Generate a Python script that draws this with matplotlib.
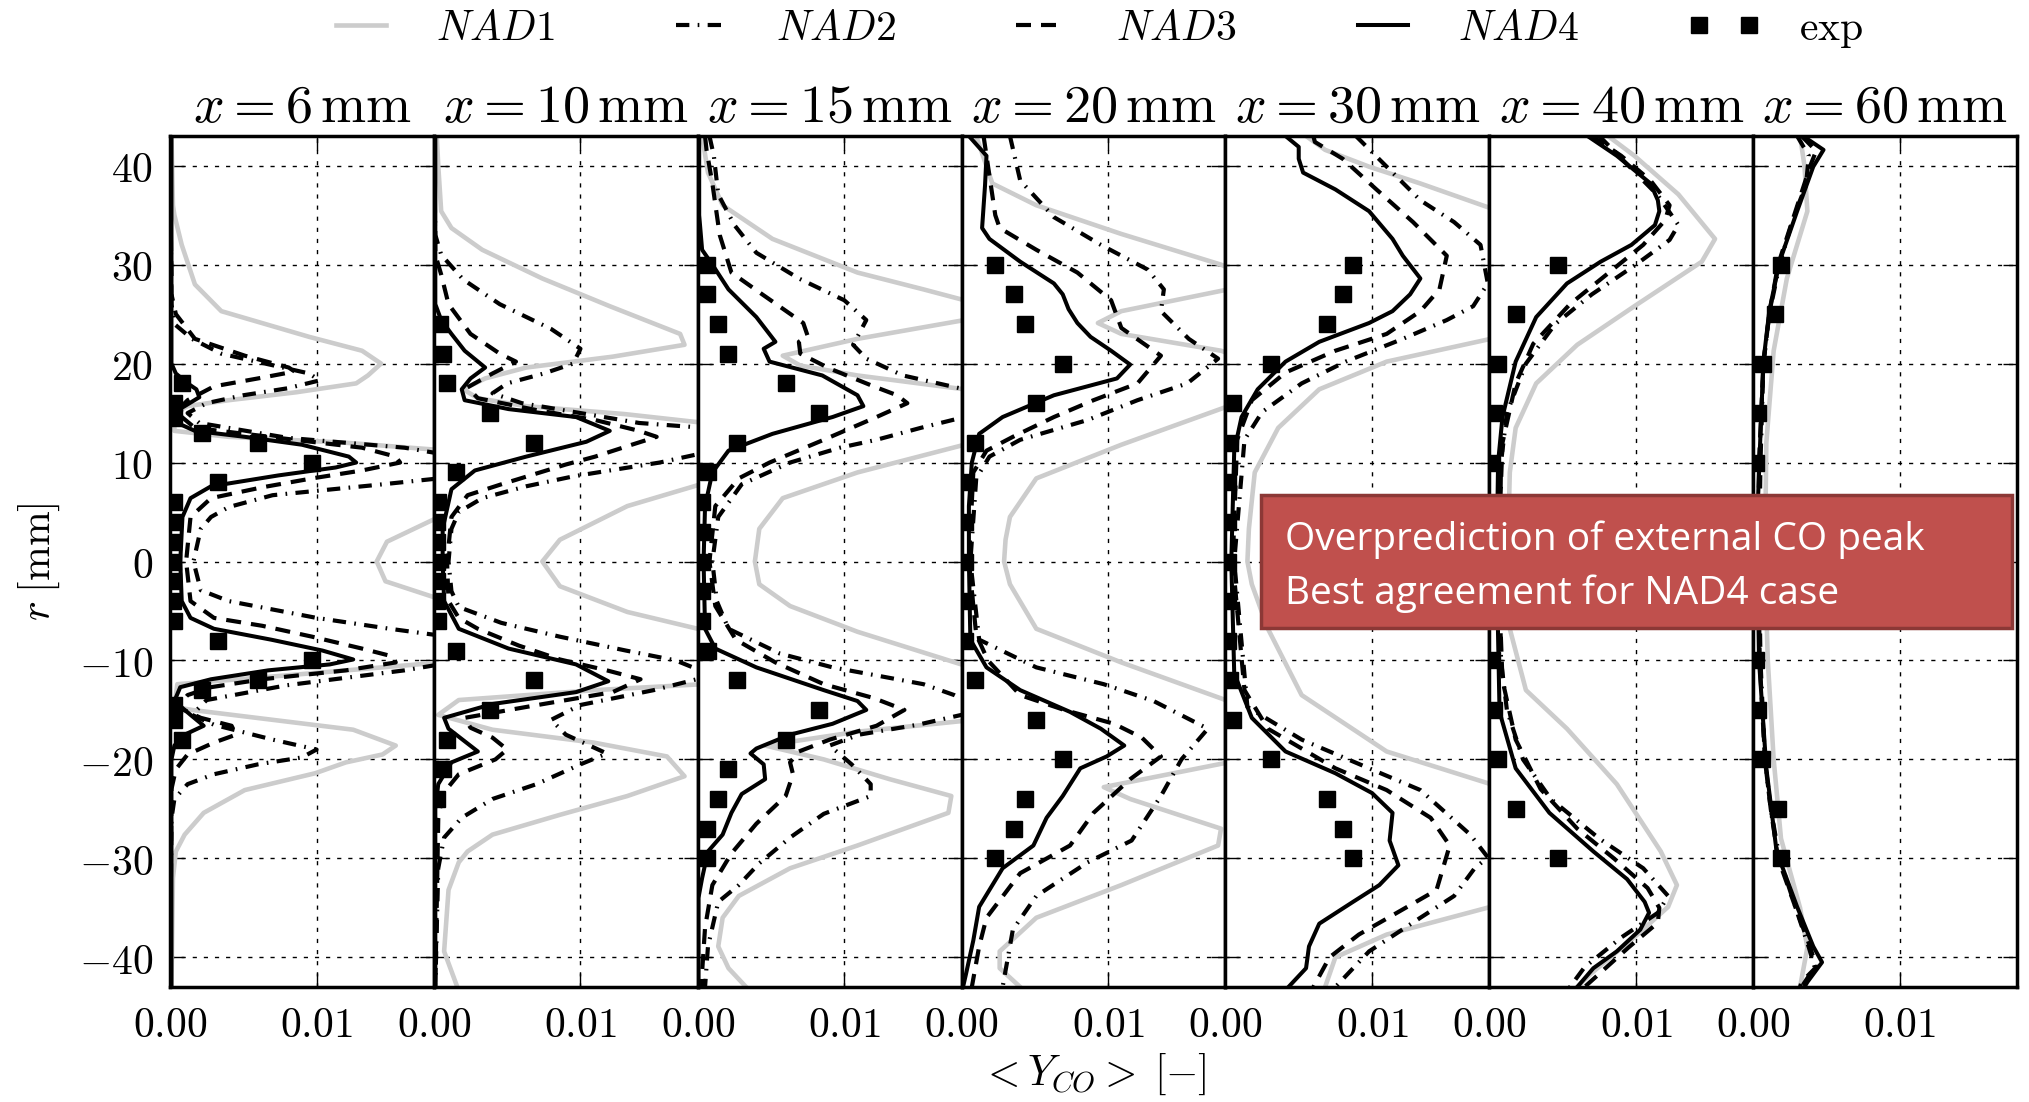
"""
Perfiles radiales de <Y_CO> en siete estaciones axiales:
cuatro casos de simulacion (NAD1..NAD4) frente al experimento.
"""
import matplotlib
matplotlib.use("Agg")
import matplotlib.pyplot as plt
from matplotlib.patches import Rectangle
from matplotlib.ticker import FuncFormatter
from matplotlib.lines import Line2D

# valores de Y_CO en unidades de 1e-3, pares (r [mm], Y_CO)
SCALE = 1e-3
STATIONS = [6, 10, 15, 20, 30, 40, 60]

# ---------------- x = 6 mm ----------------
NAD1_6 = [(43, 0.1), (36, 0.2), (35, 0.3), (32, 0.8), (28, 1.7), (25.3, 3.5), (22.7, 9.5), (21.3, 13.1),
          (20, 14.4), (18.8, 13.5), (18, 12.7), (17.1, 8.6), (16.3, 4.0), (15.7, 1.2), (15, 0.3), (13.2, 0.3),
          (12.6, 4), (12, 12), (11.2, 19), (8, 25), (4.4, 18.2), (2, 14.8), (0, 14.1), (-2, 14.7),
          (-3.7, 18.2), (-7, 25), (-10.2, 18.5), (-11.5, 8), (-12.4, 0.5), (-14.7, 0.3), (-15, 1.5),
          (-16, 7), (-17, 12.5), (-18.6, 15.4), (-19.5, 14.5), (-20.3, 12), (-21.4, 9.9), (-23.1, 5.1),
          (-25.4, 2.3), (-27.6, 1.0), (-29.3, 0.4), (-32, 0.2), (-43, 0.1)]
NAD2_6 = [(43, 0), (26, 0.1), (24, 0.3), (22.5, 1.5), (21, 3.5), (20, 6.5), (19, 9.5), (18.3, 10.2),
          (17.5, 8), (16.8, 5), (16, 2.5), (15, 1.2), (14, 2), (12.5, 8), (11.5, 16), (10, 22), (8.5, 19),
          (7.8, 14.5), (6.7, 7), (5.5, 4), (4.5, 2.8), (3.3, 2.1), (0, 1.6), (-2.9, 2.1), (-4, 4),
          (-5.7, 10), (-6.8, 15), (-7.5, 18.5), (-9.5, 22), (-11, 16), (-12.5, 8), (-14, 2.5), (-15.5, 1.5),
          (-16.5, 3), (-18, 7), (-19, 10), (-19.8, 9), (-20.5, 6), (-21.5, 3), (-22.5, 1.2), (-24, 0.3),
          (-26, 0.1), (-43, 0)]
NAD3_6 = [(43, 0), (27, 0.1), (25, 0.4), (22.5, 1.7), (20.8, 5.1), (19.6, 8.1), (19.2, 8.5), (18.5, 6),
          (17.7, 3), (16.3, 1.2), (15.1, 0.4), (13.5, 1.7), (12.3, 8.5), (11.5, 13.1), (10.6, 15.4),
          (10, 15.7), (9.2, 13.1), (8.4, 9.7), (7.5, 6.3), (6.4, 2.8), (4.5, 1.4), (0, 1.1), (-4, 1.4),
          (-5.7, 3.0), (-6.5, 6.3), (-7.6, 9.7), (-8.8, 13.1), (-9.6, 15.2), (-10.2, 15.4), (-11, 12),
          (-11.9, 6.3), (-12.7, 2.8), (-13.5, 1.2), (-14.7, 0.5), (-15.8, 2.1), (-16.6, 4.2), (-17.5, 4.5),
          (-18.3, 3), (-19.5, 1.2), (-21, 0.4), (-23, 0.1), (-43, 0)]
NAD4_6 = [(43, 0.1), (20, 0.1), (19, 0.4), (18, 1.2), (17.4, 1.8), (16.6, 2.0), (15.7, 1.0), (15.1, 0.3),
          (14, 0.5), (13.2, 1.7), (12.6, 5.1), (11.8, 9.0), (10.6, 12.2), (10, 12.7), (9.5, 11.3),
          (8.7, 7.4), (7.6, 2.8), (6.4, 1.4), (4.5, 0.85), (0, 0.7), (-4, 0.8), (-5.7, 1.4), (-6.8, 3.0),
          (-7.9, 6.9), (-9, 10.4), (-9.9, 12.5), (-10.4, 10.9), (-11, 6.7), (-11.9, 2.8), (-12.7, 0.7),
          (-14.1, 0.3), (-15.5, 1.4), (-16.6, 2.3), (-17.5, 1.0), (-18.6, 0.3), (-20, 0.1), (-43, 0.1)]
EXP_R_6 = [18, 16, 14.5, 13, 12, 10, 8, 6, 4, 2, 0, -2, -4, -6, -8, -10, -12, -13, -14.5, -16, -18]
EXP_Y_6 = [0.8, 0.3, 0.3, 2.2, 6.0, 9.7, 3.3, 0.3, 0.2, 0.2, 0.2, 0.2, 0.2, 0.3, 3.3, 9.7, 6.0, 2.2,
           0.3, 0.3, 0.8]

# ---------------- x = 10 mm ----------------
NAD1_10 = [(43, 0.2), (40, 0.3), (35.4, 0.5), (33.7, 1.2), (31.5, 3.3), (28.6, 7.4), (25.8, 12), (23, 16.8),
           (21.9, 17.1), (20.7, 12.2), (19.6, 6.3), (18.5, 3.5), (17.4, 2), (16.5, 3), (15.7, 6.3),
           (14.9, 13), (14, 18.5), (12, 24), (9, 21), (7.8, 18.2), (5.6, 13.2), (2.2, 8.6), (0, 7.4),
           (-2.5, 8.6), (-5.1, 13.2), (-6.8, 18), (-9, 23), (-12.4, 18.3), (-13, 11), (-14, 1.7),
           (-15.5, 0.3), (-17, 4), (-18.3, 10.9), (-19.7, 15.9), (-21.7, 17.1), (-23.7, 13.2), (-25.6, 8.6),
           (-27.6, 4), (-29.3, 2.3), (-30.4, 1.7), (-33.2, 1.0), (-39.4, 0.7), (-43, 1.6)]
NAD2_10 = [(43, 0), (33, 0.1), (31, 0.5), (28.5, 2), (26, 4.5), (23.5, 8), (21.5, 10), (20, 9.5), (19, 7.5),
           (18, 5), (17, 4), (16, 6), (15, 10), (14, 14), (13.5, 18.5), (12, 21), (11, 18.5), (10, 15.4),
           (9.2, 12), (8.6, 9.5), (7.6, 6.3), (6.4, 3.3), (5, 1.7), (3.3, 1.2), (0, 1.0), (-3, 1.2),
           (-4.6, 1.7), (-6.2, 4.6), (-7.6, 8.6), (-9, 13.1), (-10, 16.5), (-11.5, 19), (-13, 15),
           (-14.5, 10), (-16, 8), (-17.5, 9), (-19.4, 11.8), (-20.5, 10), (-22.5, 7), (-24, 4), (-25.9, 1.9),
           (-27.9, 0.7), (-31, 0.3), (-43, 0.1)]
NAD3_10 = [(43, 0), (31, 0.1), (29, 0.5), (26, 1), (23, 2.5), (21, 4.5), (20.2, 5.6), (19, 4), (17.6, 2.3),
           (16.5, 3), (15.3, 7), (14.3, 11), (13.2, 14), (12.6, 15.2), (11.8, 13.5), (10.6, 11), (9.8, 9),
           (7.8, 4.6), (6.7, 2.3), (4.5, 1.2), (0, 0.9), (-4, 1.0), (-5.7, 1.7), (-6.8, 3), (-8.5, 5.8),
           (-9.9, 8.6), (-11, 11.8), (-11.9, 14.1), (-13.2, 12.2), (-14.7, 6.3), (-15.8, 2.1), (-16.8, 2.5),
           (-17.8, 4), (-19, 5), (-20, 4.2), (-21.5, 1.7), (-23.5, 0.6), (-26, 0.3), (-43, 0.1)]
NAD4_10 = [(43, 0.1), (26, 0.1), (24.4, 0.5), (23, 1.2), (21.3, 2.1), (19.6, 3.5), (18.5, 2.5), (17.4, 1.9),
           (16.3, 2.1), (15.4, 5.1), (14.6, 9.7), (13.2, 12), (12.1, 10.4), (10.6, 6.3), (9.2, 2.8),
           (7.3, 1.2), (3.3, 0.6), (0, 0.6), (-4, 0.7), (-6.8, 1.7), (-8.8, 5.1), (-10.4, 9.7), (-12.1, 11.9),
           (-13.2, 9.7), (-14.4, 4), (-15.8, 0.7), (-16.9, 1.0), (-19.2, 3.0), (-20.3, 1.2), (-22.5, 0.3),
           (-25, 0.1), (-43, 0.1)]
EXP_R_10 = [24, 21, 18, 15, 12, 9, 6, 4, 2, 0, -2, -4, -6, -9, -12, -15, -18, -21, -24]
EXP_Y_10 = [0.4, 0.6, 0.9, 3.8, 6.8, 1.5, 0.3, 0.2, 0.2, 0.2, 0.2, 0.2, 0.3, 1.5, 6.8, 3.8, 0.9, 0.6, 0.2]

# ---------------- x = 15 mm ----------------
NAD1_15 = [(43, 0.3), (39.3, 0.7), (36, 1.7), (32.6, 5.1), (29.2, 10.9), (27.5, 15.4), (26.4, 18.2),
           (25.5, 19.5), (24.4, 18.2), (22.5, 10.9), (20.8, 5.8), (19.8, 7), (18.8, 10.9), (17.4, 18.2),
           (15, 24), (11.8, 18.2), (9, 10.9), (6.4, 5.8), (3.3, 4.2), (1.1, 4), (0, 3.9), (-2.3, 4.2),
           (-4.5, 6.3), (-7.1, 10.9), (-10.5, 18.2), (-13, 24), (-16.1, 18.2), (-17.2, 10.9), (-18.6, 4.6),
           (-20, 8.6), (-22, 13.1), (-23.7, 17.3), (-25.4, 17.1), (-28.7, 10.9), (-31, 6.3), (-33.8, 2.8),
           (-36, 1.7), (-38.9, 1.4), (-41.1, 2.1), (-43, 3.3)]
NAD2_15 = [(43, 0.8), (41, 1.1), (37.1, 1.4), (34, 2.5), (31.2, 4), (28.6, 6.9), (26.4, 10), (24.4, 11.5),
           (23, 11), (21.9, 10.6), (20.5, 11.5), (18.8, 14), (17.4, 18.2), (16, 21), (14.6, 18.2),
           (13.5, 15.2), (12.3, 12.2), (11.5, 9.7), (10, 6.3), (7.8, 3), (4.5, 1.4), (0, 1.0), (-4, 1.3),
           (-6.8, 2.1), (-9.3, 5.6), (-10.7, 9.2), (-11.6, 12.5), (-12.4, 15.4), (-13.5, 17.5), (-15, 19.5),
           (-16.5, 15), (-17.5, 11), (-18.6, 9), (-20.5, 10.5), (-22.5, 11.8), (-23.7, 11.8), (-25.5, 8.6),
           (-27.9, 6.3), (-30.5, 4.2), (-32.7, 2.8), (-34.4, 1.4), (-38.9, 0.7), (-43, 0.5)]
NAD3_15 = [(43, 0.5), (41.6, 0.6), (38.2, 1), (33, 1.5), (29.2, 2.3), (27, 4.4), (24.1, 7.2), (22.8, 7.5),
           (22.2, 6.9), (21, 7), (19.5, 9), (17.7, 12), (16.8, 13.6), (16, 14.3), (14.6, 12.2), (12.3, 8.6),
           (10, 4.9), (8.4, 2.8), (5.6, 1.2), (0, 0.8), (-4.5, 1.2), (-7.9, 2.6), (-10.2, 5.3), (-12.4, 8.6),
           (-13.8, 12), (-15, 14.1), (-16.6, 12.2), (-18, 9), (-19.2, 6.9), (-20.3, 6.3), (-21.5, 6.5),
           (-23.7, 6), (-26.5, 4), (-29.5, 2.3), (-32.7, 1), (-37, 0.5), (-41.5, 0.3), (-43, 0.3)]
NAD4_15 = [(43, 0.1), (35, 0.1), (31.5, 0.3), (30, 1), (27.5, 2.1), (24.7, 4), (22.2, 5.3), (21.5, 4.5),
           (20.2, 4.9), (18.8, 8.5), (16.8, 10.9), (15.7, 11.3), (14.6, 9.2), (12.9, 5.1), (11.2, 2.1),
           (9, 1.0), (5.6, 0.5), (0, 0.4), (-6.8, 0.5), (-8.8, 1.2), (-10.7, 4), (-13, 8.6), (-14.1, 10.9),
           (-15, 11.5), (-16.4, 9.2), (-17.5, 6.3), (-18.9, 4), (-19.4, 3.6), (-20.5, 4.5), (-22, 4.6),
           (-23.5, 3), (-25.4, 2.3), (-27.6, 1.7), (-29.3, 0.7), (-32, 0.3), (-34, 0.05), (-43, 0.05)]
EXP_R_15 = [30, 27, 24, 21, 18, 15, 12, 9, 6, 3, 0, -3, -6, -9, -12, -15, -18, -21, -24, -27, -30]
EXP_Y_15 = [0.6, 0.6, 1.4, 2.1, 6.0, 8.3, 2.7, 0.7, 0.3, 0.3, 0.3, 0.3, 0.3, 0.7, 2.7, 8.3, 6.0, 2.1,
            1.4, 0.6, 0.6]

# ---------------- x = 20 mm ----------------
NAD1_20 = [(43, 1), (38.2, 2.1), (36, 5.1), (33.1, 10.9), (30, 17.7), (28.8, 19.5), (27.5, 18.2),
           (25.3, 10.9), (24.1, 9.3), (23, 10.9), (21.3, 17.7), (18.5, 23), (15.7, 18.2), (11.8, 10.9),
           (8.4, 5.1), (4.5, 3.3), (2.2, 3), (0, 2.9), (-2.3, 3.3), (-6.8, 5.1), (-10.2, 10.9), (-14.1, 18.2),
           (-17, 23), (-20.3, 18.2), (-22.8, 9.7), (-24, 11.5), (-27, 17.7), (-28.7, 17.5), (-32.7, 10.9),
           (-36, 5.1), (-39.4, 2.6), (-41.1, 2.6), (-43, 4)]
NAD2_20 = [(43, 3.3), (38.5, 4), (34.8, 6.3), (32, 9.5), (29.5, 12.7), (27.5, 13.8), (25.3, 13.6),
           (22.5, 15.5), (20.5, 17.5), (18, 15.4), (16.3, 12), (14.3, 8.6), (12.3, 4), (10.6, 1.9), (8.4, 1.0),
           (0, 0.6), (-7.9, 1.2), (-10.7, 5.1), (-12.4, 9.7), (-14.1, 13.1), (-16.9, 16.8), (-20, 15),
           (-23.7, 13.6), (-28.2, 11.6), (-30.4, 8.6), (-33.8, 5.1), (-37.2, 3.5), (-43, 2.8)]
NAD3_20 = [(43, 1.5), (39, 1.9), (35, 2.3), (33.7, 2.6), (31.5, 5.1), (29.2, 7.9), (26.4, 10.2),
           (23.6, 10.9), (20.8, 13.6), (18, 12), (16.3, 9), (14.6, 6.3), (12.6, 3.5), (11.2, 1.7), (9, 0.8),
           (0, 0.5), (-7.4, 1), (-10, 1.8), (-13.5, 4), (-15, 7), (-16.4, 10.4), (-17.8, 12.3), (-19.7, 13.6),
           (-22, 11.5), (-25.4, 9), (-28.7, 7.4), (-31.5, 4), (-36, 1.7), (-38.9, 1.2), (-43, 0.7)]
NAD4_20 = [(43, 0.5), (41, 1.7), (38, 1.6), (33.7, 1.4), (32.6, 1.9), (30.3, 4), (28.1, 6.3), (27, 6.9),
           (25.5, 7.3), (24.1, 7.9), (22.7, 8.8), (21.3, 10.2), (19.9, 11.5), (18.5, 10.6), (16.8, 6.3),
           (14.6, 2.8), (12.9, 1.2), (10, 0.7), (5.6, 0.5), (0, 0.5), (-7.9, 0.6), (-10.7, 1.7), (-13, 4),
           (-15.2, 7.4), (-16.9, 9.5), (-18.6, 11.1), (-19.7, 9.9), (-20.9, 8.1), (-23.7, 6.9), (-25.9, 5.8),
           (-28.7, 4.9), (-31, 2.8), (-34.9, 1.2), (-38.3, 0.8), (-41.7, 0.3), (-43, 0.1)]
EXP_R_20 = [30, 27, 24, 20, 16, 12, 8, 4, 0, -4, -8, -12, -16, -20, -24, -27, -30]
EXP_Y_20 = [2.3, 3.6, 4.3, 6.9, 5.1, 0.9, 0.2, 0.2, 0.2, 0.2, 0.2, 0.9, 5.1, 6.9, 4.3, 3.6, 2.3]

# ---------------- x = 30 mm ----------------
NAD1_30 = [(43, 5.5), (41.6, 6.8), (39.9, 9.8), (38.2, 13.3), (35.7, 18.1), (30, 24), (25, 22), (22.5, 18.1),
           (20.2, 11), (17.4, 6.4), (13.5, 3.6), (9, 2), (3.3, 1.6), (0, 1.5), (-2.3, 1.8), (-6.8, 2.9),
           (-13.5, 5.2), (-19.2, 11), (-22.5, 18.1), (-28, 24), (-34.9, 18.1), (-37.7, 11), (-40, 7.5),
           (-43, 6.8)]
NAD2_30 = [(43, 8.9), (39.9, 11), (36.5, 13.3), (34.3, 15.6), (32, 17.4), (28.1, 17.9), (25.8, 16.9),
           (24.4, 15.1), (22.5, 12.1), (20.2, 8.2), (18, 5.2), (15.1, 2.5), (12.3, 1.3), (0, 0.6),
           (-14.7, 1.5), (-18, 5.2), (-20.9, 9.8), (-23.1, 13.3), (-27.6, 16.7), (-29.9, 17.9), (-31, 17),
           (-33.8, 15.6), (-36, 13.3), (-39.4, 9.8), (-43, 7.5)]
NAD3_30 = [(43, 6), (42.4, 6.1), (40.7, 8), (37.6, 10.3), (34.3, 12.8), (30.9, 15.1), (27.5, 14.6),
           (25.3, 13.3), (23, 11), (21.3, 7.5), (19.1, 4.1), (16.3, 1.8), (12.3, 0.8), (0, 0.5), (-13, 1.3),
           (-16.9, 2.9), (-20.9, 7.5), (-23.1, 11), (-25.9, 14), (-28.7, 15.3), (-33.2, 14.4), (-35.5, 11.7),
           (-37.7, 9.1), (-40, 7.1), (-43, 6)]
NAD4_30 = [(43, 4.1), (41.9, 5), (40.7, 5), (39.3, 5.3), (37.6, 7.5), (35.4, 9.8), (32.6, 11.4),
           (30.9, 12.1), (28.6, 13.3), (27, 12.6), (25.3, 11.4), (24.1, 9.8), (22.2, 6.4), (20.2, 4.1),
           (17.4, 2.2), (14.6, 1.1), (11.2, 0.6), (0, 0.4), (-11.3, 0.6), (-15.8, 1.8), (-19.2, 4.1),
           (-21.4, 7.5), (-23.4, 10), (-25.4, 11.4), (-28.2, 11.2), (-30.7, 11.8), (-32.7, 10.5),
           (-34.4, 8.7), (-36.6, 6.4), (-38.9, 5.7), (-41.1, 5.5), (-43, 4.3)]
EXP_R_30 = [30, 27, 24, 20, 16, 12, 8, 4, 0, -4, -8, -12, -16, -20, -24, -27, -30]
EXP_Y_30 = [8.7, 8.0, 6.9, 3.1, 0.5, 0.3, 0.2, 0.2, 0.2, 0.2, 0.2, 0.3, 0.5, 3.1, 6.9, 8.0, 8.7]

# ---------------- x = 40 mm ----------------
NAD1_40 = [(43, 8.1), (41, 9.9), (37.1, 12.9), (32.6, 15.4), (30.3, 14.5), (25.8, 9.9), (21.9, 6), (18, 3.2),
           (13.5, 1.8), (9, 1.4), (3.3, 1.3), (0, 1.3), (-6.8, 1.4), (-13, 2.5), (-16.9, 5.3), (-22.5, 8.7),
           (-29.3, 11.7), (-32.7, 12.8), (-34.9, 12.2), (-37.7, 10.1), (-41.7, 6.9), (-43, 6)]
NAD2_40 = [(43, 7.5), (40, 9.5), (37, 11.5), (34, 12.9), (32.5, 12.3), (30, 10), (27, 7), (24, 4.5),
           (20, 2.5), (15, 1.2), (10, 0.8), (0, 0.7), (-10, 0.8), (-15, 1.2), (-20, 2.3), (-24, 4.2),
           (-28, 7.5), (-31, 10.5), (-33.8, 12.2), (-35.5, 11.5), (-38, 9), (-41, 6.5), (-43, 5.5)]
NAD3_40 = [(43, 7), (41, 9), (38.5, 11), (36, 12.3), (34.5, 12), (32, 10.5), (29, 8), (26, 5.5), (22, 3),
           (18, 1.8), (12, 0.9), (0, 0.6), (-12, 0.9), (-18, 1.8), (-23, 3.5), (-27, 6), (-30, 8.5),
           (-33, 10.8), (-35, 11.6), (-36.5, 11.5), (-39, 9.5), (-43, 6.5)]
NAD4_40 = [(43, 6.7), (41, 8.7), (39.3, 10.1), (38.2, 11), (36.5, 11.5), (35.4, 11.6), (34, 11.3),
           (32, 9.7), (30.3, 7.6), (28.1, 5.3), (24.7, 3.2), (20.2, 1.8), (14.6, 0.9), (10, 0.6), (0, 0.5),
           (-15.2, 0.7), (-20.9, 1.8), (-25.4, 4.1), (-29.3, 7.1), (-32.1, 9.4), (-34.4, 10.6), (-35.5, 10.9),
           (-37.2, 10.3), (-39.4, 8.7), (-41.1, 7.1), (-43, 6)]
EXP_R_40 = [30, 25, 20, 15, 10, 5, 0, -5, -10, -15, -20, -25, -30]
EXP_Y_40 = [4.7, 1.8, 0.6, 0.3, 0.2, 0.2, 0.2, 0.2, 0.2, 0.3, 0.6, 1.8, 4.7]

# ---------------- x = 60 mm ----------------
NAD1_60 = [(43, 3.2), (40, 3.5), (35.4, 3.7), (28.6, 2.3), (21.3, 1.4), (12, 0.9), (0, 0.8), (-10, 1.0),
           (-20, 1.4), (-28, 1.9), (-35, 3.2), (-39, 3.7), (-43, 3.2)]
NAD2_60 = [(43, 3.0), (41, 3.8), (38, 3.6), (35, 2.8), (30, 1.8), (25, 1.1), (20, 0.7), (10, 0.5), (0, 0.4),
           (-10, 0.5), (-20, 0.8), (-25, 1.2), (-30, 1.8), (-35, 2.9), (-39, 3.8), (-41, 4.2), (-43, 3.3)]
NAD3_60 = [(43, 3.3), (41.5, 4.3), (40, 3.9), (35, 2.8), (30, 1.7), (25, 1.1), (20, 0.7), (10, 0.4),
           (0, 0.35), (-10, 0.45), (-20, 0.8), (-25, 1.2), (-30, 1.7), (-35, 2.9), (-39, 3.9), (-41, 4.3),
           (-42.5, 3.3), (-43, 3.2)]
NAD4_60 = [(43, 3.4), (41.6, 4.8), (39.9, 4.1), (35.4, 3), (30.3, 1.8), (25.3, 1.1), (20.2, 0.7),
           (12.9, 0.5), (5, 0.3), (0, 0.3), (-10, 0.4), (-20.9, 0.9), (-29.3, 1.6), (-34.9, 3), (-38.9, 4.1),
           (-40.5, 4.7), (-42.5, 3.7), (-43, 3.5)]
EXP_R_60 = [30, 25, 20, 15, 10, 5, 0, -5, -10, -15, -20, -25, -30]
EXP_Y_60 = [1.9, 1.5, 0.7, 0.3, 0.2, 0.2, 0.2, 0.2, 0.2, 0.3, 0.6, 1.7, 1.9]

CASE_LABELS = ["NAD1", "NAD2", "NAD3", "NAD4"]
ANNOTATION = ["Overprediction of external CO peak", "Best agreement for NAD4 case"]


def estilos():
    """estilos de linea de cada caso"""
    return [
        dict(color="#cccccc", lw=3.3, ls="-"),
        dict(color="k", lw=3.0, ls=(0, (3.2, 2.0, 0.4, 2.0))),
        dict(color="k", lw=3.0, ls=(0, (3.6, 2.4))),
        dict(color="k", lw=2.9, ls="-"),
    ]


def graficar_perfil(axis, curvas, exp_r, exp_y, estacion, primera):
    """dibuja un panel con las cuatro simulaciones y el experimento"""
    for curva, estilo in zip(curvas, estilos()):
        r_val, y_val = zip(*curva)
        axis.plot([v * SCALE for v in y_val], r_val, **estilo)
    axis.plot([v * SCALE for v in exp_y], exp_r, "s", color="k", ms=11, zorder=5)

    axis.set_xlim(0, 0.018)
    axis.set_ylim(-43, 43)
    axis.set_xticks([0.0, 0.01])
    axis.set_yticks(range(-40, 41, 10))
    axis.xaxis.set_major_formatter(FuncFormatter(lambda v, _: f"${v:.2f}$"))
    axis.yaxis.set_major_formatter(FuncFormatter(lambda v, _: f"${v:.0f}$"))
    axis.tick_params(direction="in", top=True, right=True, length=10, width=1.0,
                     labelsize=30, pad=12, labelleft=primera)
    axis.grid(True, color="k", lw=1.0, ls=(0, (3, 5)))
    for spine in axis.spines.values():
        spine.set_linewidth(2.5)
    axis.set_title(rf"$x = {estacion}\,\mathrm{{mm}}$", fontsize=39, pad=10)


def main():
    plt.rcParams["mathtext.fontset"] = "cm"
    plt.rcParams["font.family"] = "serif"
    plt.rcParams["font.serif"] = ["DejaVu Serif"]

    fig = plt.figure(figsize=(20.29, 11.02), dpi=100)
    left, right = 170 / 2029, 2017 / 2029
    bottom, top = 1 - 987 / 1102, 1 - 136 / 1102
    ancho = (right - left) / len(STATIONS)

    paneles = [
        ([NAD1_6, NAD2_6, NAD3_6, NAD4_6], EXP_R_6, EXP_Y_6),
        ([NAD1_10, NAD2_10, NAD3_10, NAD4_10], EXP_R_10, EXP_Y_10),
        ([NAD1_15, NAD2_15, NAD3_15, NAD4_15], EXP_R_15, EXP_Y_15),
        ([NAD1_20, NAD2_20, NAD3_20, NAD4_20], EXP_R_20, EXP_Y_20),
        ([NAD1_30, NAD2_30, NAD3_30, NAD4_30], EXP_R_30, EXP_Y_30),
        ([NAD1_40, NAD2_40, NAD3_40, NAD4_40], EXP_R_40, EXP_Y_40),
        ([NAD1_60, NAD2_60, NAD3_60, NAD4_60], EXP_R_60, EXP_Y_60),
    ]
    for i, (estacion, (curvas, exp_r, exp_y)) in enumerate(zip(STATIONS, paneles)):
        axis = fig.add_axes([left + i * ancho, bottom, ancho, top - bottom])
        graficar_perfil(axis, curvas, exp_r, exp_y, estacion, i == 0)

    centro = 0.5 * (left + right)
    fig.text(39 / 2029, 0.5 * (bottom + top), r"$r\;[\mathrm{mm}]$", rotation=90,
             ha="center", va="center", fontsize=30)
    fig.text(centro, 1 - 1074 / 1102, r"$<Y_{CO}>\;[-]$", ha="center", va="center", fontsize=30)

    handles = [Line2D([], [], **estilo) for estilo in estilos()]
    handles.append(Line2D([], [], ls="none", marker="s", color="k", ms=11))
    etiquetas = [f"${nombre}$" for nombre in CASE_LABELS] + [r"$\mathrm{exp}$"]
    fig.legend(handles, etiquetas, loc="center", bbox_to_anchor=(centro, 1 - 28 / 1102), ncol=5,
               frameon=False, fontsize=30, handlelength=1.8, handletextpad=0.9, columnspacing=2.6,
               numpoints=2, borderaxespad=0)

    caja = Rectangle((1261 / 2029, 1 - 628 / 1102), 751 / 2029, 133 / 1102, transform=fig.transFigure,
                     facecolor="#c0504d", edgecolor="#8c3836", lw=2.5, zorder=10)
    fig.add_artist(caja)
    for j, linea in enumerate(ANNOTATION):
        fig.text(1285 / 2029, 1 - (550 + 54 * j) / 1102, linea, color="white", fontsize=28,
                 family="Open Sans", va="baseline", zorder=11)

    fig.savefig("out.png", dpi=100)


if __name__ == "__main__":
    main()
